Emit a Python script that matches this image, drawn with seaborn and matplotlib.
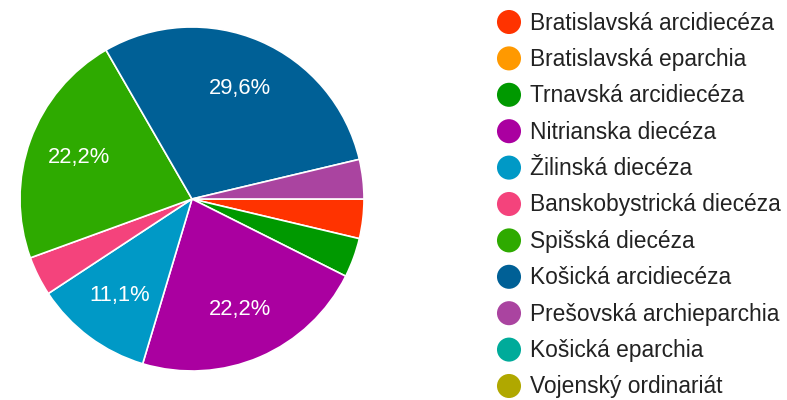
import matplotlib
matplotlib.use("Agg")
import matplotlib.pyplot as plt
import seaborn as sns

sns.set_theme(style="white")
plt.rcParams['font.family'] = ['Liberation Sans', 'DejaVu Sans']

categories = [
    "Bratislavská arcidiecéza", "Bratislavská eparchia", "Trnavská arcidiecéza",
    "Nitrianska diecéza", "Žilinská diecéza", "Banskobystrická diecéza",
    "Spišská diecéza", "Košická arcidiecéza", "Prešovská archieparchia",
    "Košická eparchia", "Vojenský ordinariát",
]
counts = [1, 0, 1, 6, 3, 1, 6, 8, 1, 0, 0]
colors = ["#ff3300", "#ff9900", "#009900", "#aa00a0", "#0099c6", "#f4437c",
          "#2eaa00", "#006096", "#aa44a0", "#00ab9a", "#b0a800"]

fig = plt.figure(figsize=(7.87, 4.0), dpi=100)
W, H = 787, 400
cx, cy, r = 192, 199, 172
ax = fig.add_axes([(cx - r) / W, (H - cy - r) / H, 2 * r / W, 2 * r / H])

vals = [v for v in counts if v > 0]
cols = [c for v, c in zip(counts, colors) if v > 0]

def fmt(p):
    return (f"{p:.1f}".replace(".", ",") + "%") if p > 5 else ""

wedges, texts, autotexts = ax.pie(
    vals, colors=cols, startangle=0, counterclock=False, radius=1,
    autopct=fmt, pctdistance=0.70,
    wedgeprops=dict(edgecolor="white", linewidth=1.2),
    textprops=dict(color="white", fontsize=15.8),
)
ax.set_xlim(-1.0, 1.0)
ax.set_ylim(-1.0, 1.0)
ax.set_aspect("equal")
ax.axis("off")

# legend
lax = fig.add_axes([0, 0, 1, 1])
lax.set_xlim(0, W)
lax.set_ylim(H, 0)
lax.axis("off")
y0, dy = 22, 36.4
for i, (lab, col) in enumerate(zip(categories, colors)):
    y = y0 + i * dy
    lax.scatter([509], [y], s=300, color=col, edgecolors="none")
    lax.text(530, y + 1, lab, fontsize=16.4, color="#222222", va="center", ha="left")

fig.savefig("out.png", dpi=100)
